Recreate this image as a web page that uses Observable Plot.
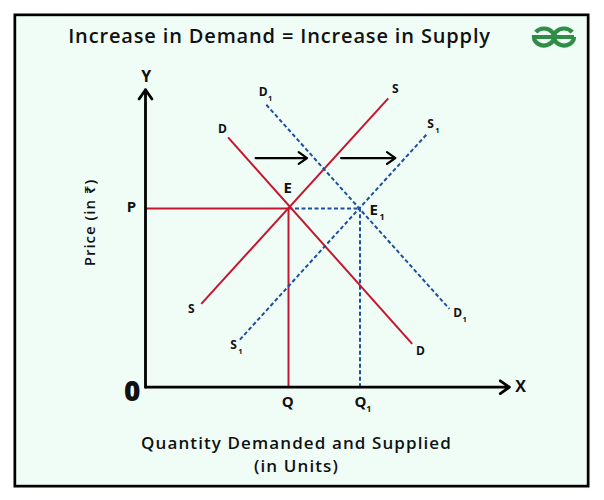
<!DOCTYPE html>
<html>
<head>
<meta charset="utf-8">
<script src="https://cdn.jsdelivr.net/npm/d3@7"></script>
<script src="https://cdn.jsdelivr.net/npm/@observablehq/plot@0.6"></script>
<style>
  body { margin: 0; background: #ffffff; }
  #wrap { position: relative; width: 604px; height: 500px; }
  #wrap svg { position: absolute; left: 0; top: 0; }
</style>
</head>
<body>
<div id="wrap"></div>
<script>
// ---------- DATA (quantity / price in chart units) ----------
const curveNames    = ["D", "S", "D1", "S1"];
const curveStartQ   = [2.31, 1.56, 3.38, 2.64];
const curveStartP   = [6.99, 2.33, 7.90, 1.33];
const curveEndQ     = [7.46, 6.79, 8.50, 7.88];
const curveEndP     = [1.21, 8.08, 2.19, 7.09];
const curveShifted  = [false, false, true, true];

const eqNames    = ["E", "E1"];
const eqQuantity = [4, 6];
const eqPrice    = [5, 5];

const axisMaxQ = 10.18;
const axisMaxP = 8.32;

const shiftFromQ = [3.08, 5.47];
const shiftToQ   = [4.52, 6.99];
const shiftP     = [6.41, 6.41];

const curveLabelText = ["D", "D", "S", "S", "D", "D", "S", "S"];
const curveLabelSub  = ["", "", "", "", "1", "1", "1", "1"];
const curveLabelQ    = [2.15, 7.69, 1.28, 6.99, 3.29, 8.73, 2.46, 7.97];
const curveLabelP    = [7.23, 1.00, 2.17, 8.35, 8.25, 2.06, 1.17, 7.35];

const pointLabelText = ["E", "E", "P", "Q", "Q"];
const pointLabelSub  = ["", "1", "", "", "1"];
const pointLabelQ    = [3.98, 6.38, -0.39, 3.98, 6.01];
const pointLabelP    = [5.58, 4.94, 5.03, -0.42, -0.42];

const axisLetterText = ["X", "Y"];
const axisLetterQ    = [10.49, 0.02];
const axisLetterP    = [0, 8.67];

const originText = ["0"];
const originQ = [-0.37];
const originP = [-0.14];

const titleText  = "Increase in Demand = Increase in Supply";
const xTitleText = "Quantity Demanded and Supplied\n(in Units)";
const yTitleText = "Price (in \u20B9)";

// ---------- TABLES ----------
const curves = curveNames.map((n, i) => ({
  name: n, q1: curveStartQ[i], p1: curveStartP[i], q2: curveEndQ[i], p2: curveEndP[i], shifted: curveShifted[i]
}));
const [E, E1] = eqNames.map((n, i) => ({name: n, q: eqQuantity[i], p: eqPrice[i]}));
const redGuides = [
  {q1: 0, p1: E.p, q2: E.q, p2: E.p},
  {q1: E.q, p1: 0, q2: E.q, p2: E.p}
];
const blueGuides = [
  {q1: E.q, p1: E1.p, q2: E1.q, p2: E1.p},
  {q1: E1.q, p1: 0, q2: E1.q, p2: E1.p}
];
const axes = [
  {q1: 0, p1: 0, q2: axisMaxQ, p2: 0},
  {q1: 0, p1: 0, q2: 0, p2: axisMaxP}
];
const shifts = shiftFromQ.map((q, i) => ({q1: q, q2: shiftToQ[i], p: shiftP[i]}));
const curveLabels = curveLabelText.map((t, i) => ({t, s: curveLabelSub[i], q: curveLabelQ[i], p: curveLabelP[i]}));
const pointLabels = pointLabelText.map((t, i) => ({t, s: pointLabelSub[i], q: pointLabelQ[i], p: pointLabelP[i]}));
const axisLetters = axisLetterText.map((t, i) => ({t, q: axisLetterQ[i], p: axisLetterP[i]}));
const origin = originText.map((t, i) => ({t, q: originQ[i], p: originP[i]}));

// ---------- STYLE ----------
const RED = "#c5162e";
const BLUE = "#1c4f9c";
const BG = "#f0fdf7";
const FONT = "'Open Sans', 'Noto Sans', sans-serif";
const UNIT = 35.75;

const chart = Plot.plot({
  width: 604,
  height: 500,
  marginLeft: 14.35,
  marginRight: 16.35,
  marginTop: 14.35,
  marginBottom: 14.35,
  style: {background: "transparent", fontFamily: FONT, color: "#111"},
  x: {domain: [0, 10], range: [145, 145 + 10 * UNIT], axis: null},
  y: {domain: [0, 10], range: [386.7, 386.7 - 10 * UNIT], axis: null},
  marks: [
    Plot.frame({fill: BG, stroke: "#000", strokeWidth: 2.7}),
    // guides
    Plot.link(redGuides, {x1: "q1", y1: "p1", x2: "q2", y2: "p2", stroke: RED, strokeWidth: 2}),
    Plot.link(blueGuides, {x1: "q1", y1: "p1", x2: "q2", y2: "p2", stroke: BLUE, strokeWidth: 2, strokeDasharray: "4,2.5"}),
    // curves
    Plot.link(curves.filter(d => !d.shifted), {x1: "q1", y1: "p1", x2: "q2", y2: "p2", stroke: RED, strokeWidth: 2}),
    Plot.link(curves.filter(d => d.shifted), {x1: "q1", y1: "p1", x2: "q2", y2: "p2", stroke: BLUE, strokeWidth: 2, strokeDasharray: "4,2.5"}),
    // axes with arrowheads
    Plot.arrow(axes, {x1: "q1", y1: "p1", x2: "q2", y2: "p2", stroke: "#000", strokeWidth: 2.8, headLength: 6, headAngle: 70}),
    // shift arrows
    Plot.arrow(shifts, {x1: "q1", y1: "p", x2: "q2", y2: "p", stroke: "#000", strokeWidth: 2.2, headLength: 7, headAngle: 70}),
    // curve labels
    Plot.text(curveLabels, {x: "q", y: "p", text: "t", fontSize: 12, fontWeight: 700, fill: "#111"}),
    Plot.text(curveLabels.filter(d => d.s), {x: "q", y: "p", text: "s", fontSize: 7.5, fontWeight: 700, fill: "#111", dx: 7, dy: 6.5}),
    // point labels
    Plot.text(pointLabels, {x: "q", y: "p", text: "t", fontSize: 15, fontWeight: 700, fill: "#111"}),
    Plot.text(pointLabels.filter(d => d.s), {x: "q", y: "p", text: "s", fontSize: 9, fontWeight: 700, fill: "#111", dx: 8.5, dy: 7}),
    // axis letters
    Plot.text(axisLetters, {x: "q", y: "p", text: "t", fontSize: 16, fontWeight: 700, fill: "#111"}),
    Plot.text(origin, {x: "q", y: "p", text: "t", fontSize: 28, fontWeight: 800, fill: "#111"}),
    // titles
    Plot.text([titleText], {frameAnchor: "top", text: d => d, dx: -22, dy: 22, fontSize: 20, fontWeight: 600, fill: "#111", textAnchor: "middle", lineAnchor: "middle"}),
    Plot.text([xTitleText], {frameAnchor: "bottom", text: d => d, dx: -5, dy: -33, fontSize: 17, fontWeight: 600, fill: "#111", textAnchor: "middle", lineAnchor: "middle", lineHeight: 1.35}),
    Plot.text([yTitleText], {frameAnchor: "left", text: d => d, dx: 75.6, dy: -28, rotate: -90, fontSize: 15, fontWeight: 600, fill: "#111", textAnchor: "middle", lineAnchor: "middle"})
  ]
});

// widen title lettering to match the reference face
d3.select(chart).selectAll("text").each(function () {
  const t = this.textContent;
  if (t === titleText) this.style.letterSpacing = "0.85px";
  else if (t.startsWith("Quantity")) this.style.letterSpacing = "1.1px";
  else if (t === yTitleText) this.style.letterSpacing = "1px";
});

const wrap = document.getElementById("wrap");
wrap.appendChild(chart);

// GfG logo (decoration)
const ns = "http://www.w3.org/2000/svg";
const logo = document.createElementNS(ns, "svg");
logo.setAttribute("width", 604);
logo.setAttribute("height", 500);
logo.style.pointerEvents = "none";
const cy = 37, rx = 10, ry = 8.5, c1 = 544, c2 = 564;
const a = 145 * Math.PI / 180;
const path = document.createElementNS(ns, "path");
const sx1 = c1 + rx * Math.cos(a), sy1 = cy - ry * Math.sin(a);
const sx2 = c2 - rx * Math.cos(a), sy2 = cy - ry * Math.sin(a);
path.setAttribute("d",
  `M${sx1},${sy1} A${rx},${ry} 0 1 1 ${c1 - rx},${cy} L${c2 + rx},${cy} ` +
  `M${sx2},${sy2} A${rx},${ry} 0 1 0 ${c2 + rx},${cy}`);
path.setAttribute("fill", "none");
path.setAttribute("stroke", "#2f8d46");
path.setAttribute("stroke-width", 4.2);
logo.appendChild(path);
wrap.appendChild(logo);
</script>
</body>
</html>
